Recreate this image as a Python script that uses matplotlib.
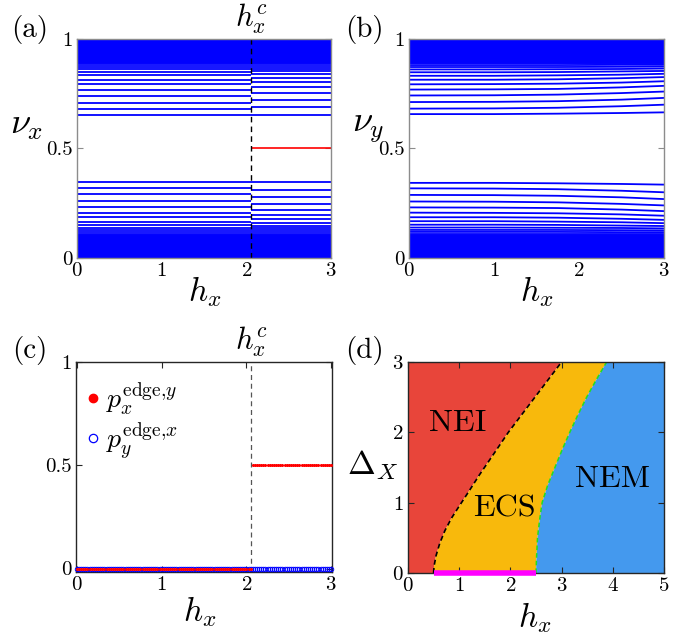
import numpy as np
import matplotlib
matplotlib.use("Agg")
import matplotlib.pyplot as plt
from matplotlib.lines import Line2D

plt.rcParams["font.family"] = "serif"
plt.rcParams["font.serif"] = ["cmr10"]
plt.rcParams["mathtext.fontset"] = "cm"
plt.rcParams["axes.unicode_minus"] = False
plt.rcParams["axes.formatter.use_mathtext"] = True

# ---- data ----
hc = 2.06

# (a) Wannier centres nu_x, lower branch (upper branch is 1 - nu)
nu_dense = [0.000, 0.004, 0.008, 0.012, 0.016, 0.020, 0.024, 0.028, 0.032,
            0.036, 0.040, 0.044, 0.048, 0.052, 0.056, 0.060, 0.064, 0.068,
            0.072, 0.076, 0.080, 0.084, 0.088, 0.092, 0.096, 0.100, 0.104]
nu_a_left = [0.346, 0.321, 0.291, 0.260, 0.231, 0.207, 0.186, 0.166,
             0.151, 0.138, 0.127, 0.118, 0.111]
nu_a_right = [0.346, 0.312, 0.280, 0.248, 0.221, 0.196, 0.177, 0.161,
              0.148, 0.136, 0.126, 0.118, 0.111]
nu_a_edge = 0.5

# (b) nu_y lower branch sampled at these h_x
h_b = [0.0, 1.0, 1.75, 2.5, 3.0]
nu_b = [
    [0.343, 0.343, 0.341, 0.338, 0.335],
    [0.318, 0.317, 0.314, 0.307, 0.300],
    [0.288, 0.287, 0.284, 0.277, 0.269],
    [0.258, 0.257, 0.254, 0.247, 0.240],
    [0.231, 0.230, 0.228, 0.221, 0.214],
    [0.207, 0.206, 0.204, 0.199, 0.193],
    [0.186, 0.186, 0.184, 0.179, 0.174],
    [0.168, 0.168, 0.166, 0.163, 0.159],
    [0.152, 0.152, 0.151, 0.148, 0.146],
    [0.139, 0.139, 0.138, 0.137, 0.135],
    [0.128, 0.128, 0.128, 0.127, 0.126],
    [0.119, 0.119, 0.119, 0.118, 0.118],
    [0.111, 0.111, 0.111, 0.111, 0.111],
]

# (c) edge polarizations
h_c = np.arange(0, 3.0001, 0.025)
px_below, px_above = 0.0, 0.5
py_value = 0.0

# (d) phase boundaries (h_x, Delta_X)
b1_h = [0.50, 0.51, 0.55, 0.62, 0.72, 0.85, 1.00, 1.18, 1.40, 1.70, 1.96, 2.48, 3.00]
b1_d = [0.00, 0.10, 0.25, 0.42, 0.60, 0.78, 0.95, 1.15, 1.40, 1.72, 2.00, 2.50, 3.00]
b2_h = [2.50, 2.51, 2.53, 2.57, 2.62, 2.73, 2.87, 3.01, 3.16, 3.32, 3.49, 3.68, 3.88]
b2_d = [0.00, 0.20, 0.50, 0.75, 1.00, 1.25, 1.50, 1.75, 2.00, 2.25, 2.50, 2.75, 3.00]
phase_names = ["NEI", "ECS", "NEM"]
phase_pos = [(0.98, 2.13), (1.89, 0.92), (4.0, 1.33)]

blue = "#0000ff"
gray = "#8c8c8c"
dark = "#262626"
lw_band = 1.3

fig = plt.figure(figsize=(6.91, 6.37), dpi=100)
ax_a = fig.add_axes([0.1114, 0.595, 0.3676, 0.3438])
ax_b = fig.add_axes([0.5919, 0.595, 0.369, 0.3438])
ax_c = fig.add_axes([0.110, 0.102, 0.3705, 0.3297])
ax_d = fig.add_axes([0.5904, 0.1005, 0.3705, 0.3312])


def style(ax, color):
    ax.tick_params(direction="in", top=True, right=True, length=4,
                   width=0.8, color=color, labelsize=15, pad=3)
    for s in ax.spines.values():
        s.set_color(color)
        s.set_linewidth(1.0)


# (a)
for x0, x1, sparse in [(0, hc, nu_a_left), (hc, 3, nu_a_right)]:
    for v in nu_dense:
        ax_a.hlines([v, 1 - v], x0, x1, color=blue, lw=2.0)
    for v in sparse:
        ax_a.hlines([v, 1 - v], x0, x1, color=blue, lw=lw_band)
ax_a.hlines(nu_a_edge, hc, 3, color="red", lw=1.2)
ax_a.axvline(hc, color="black", ls=(0, (4, 3)), lw=1.0)
ax_a.set_xlim(0, 3)
ax_a.set_ylim(0, 1)
ax_a.set_xticks([0, 1, 2, 3])
ax_a.set_yticks([0, 0.5, 1])
ax_a.set_yticklabels(["0", "0.5", "1"])
style(ax_a, gray)
ax_a.set_xlabel(r"$h_x$", fontsize=24, va="center")
ax_a.xaxis.set_label_coords(0.504, -0.155)
ax_a.set_ylabel(r"$\nu_x$", fontsize=26, rotation=0, va="center", ha="center")
ax_a.yaxis.set_label_coords(-0.197, 0.60)
ax_a.text(hc, 1.015, r"$h_x^c$", transform=ax_a.get_xaxis_transform(),
          ha="center", va="bottom", fontsize=22)

# (b)
for v in nu_dense:
    ax_b.hlines([v, 1 - v], 0, 3, color=blue, lw=2.0)
for row in nu_b:
    ax_b.plot(h_b, row, color=blue, lw=lw_band)
    ax_b.plot(h_b, [1 - v for v in row], color=blue, lw=lw_band)
ax_b.set_xlim(0, 3)
ax_b.set_ylim(0, 1)
ax_b.set_xticks([0, 1, 2, 3])
ax_b.set_yticks([0, 0.5, 1])
ax_b.set_yticklabels(["0", "0.5", "1"])
style(ax_b, gray)
ax_b.set_xlabel(r"$h_x$", fontsize=24, va="center")
ax_b.xaxis.set_label_coords(0.50, -0.155)
ax_b.set_ylabel(r"$\nu_y$", fontsize=26, rotation=0, va="center", ha="center")
ax_b.yaxis.set_label_coords(-0.16, 0.587)

# (c)
px = np.where(h_c > hc, px_above, px_below)
py = np.full_like(h_c, py_value)
ax_c.plot(h_c, py, ls="none", marker="o", ms=3.2, mfc="none", mec=blue,
          mew=0.7, zorder=3, clip_on=False)
ax_c.plot(h_c, px, ls="none", marker="o", ms=2.2, mfc="red", mec="red",
          mew=0, zorder=4, clip_on=False)
ax_c.axvline(hc, color="#555555", ls=(0, (4, 3)), lw=0.9)
ax_c.set_xlim(-0.01, 3.01)
ax_c.set_ylim(-0.017, 1)
ax_c.set_xticks([0, 1, 2, 3])
ax_c.set_yticks([0, 0.5, 1])
ax_c.set_yticklabels(["0", "0.5", "1"])
style(ax_c, dark)
ax_c.set_xlabel(r"$h_x$", fontsize=24, va="center")
ax_c.xaxis.set_label_coords(0.484, -0.19)
ax_c.text(hc, 1.015, r"$h_x^c$", transform=ax_c.get_xaxis_transform(),
          ha="center", va="bottom", fontsize=22)
handles = [
    Line2D([], [], ls="none", marker="o", ms=6, mfc="red", mec="red"),
    Line2D([], [], ls="none", marker="o", ms=6, mfc="none", mec=blue, mew=0.9),
]
ax_c.legend(handles, [r"$p_x^{\mathrm{edge}{,}y}$", r"$p_y^{\mathrm{edge}{,}x}$"],
            loc="upper left", frameon=False, fontsize=20, handlelength=0.6,
            handletextpad=0.15, labelspacing=0.1, borderaxespad=0.2,
            bbox_to_anchor=(-0.03, 0.99))

# (d)
red_c, yel_c, blu_c = "#e8453a", "#f8b90c", "#4499ee"
ax_d.fill([0] + b1_h + [0], [0] + b1_d + [3], color=red_c, lw=0)
ax_d.fill(b1_h + b2_h[::-1], b1_d + b2_d[::-1], color=yel_c, lw=0)
ax_d.fill(b2_h + [5, 5], b2_d + [3, 0], color=blu_c, lw=0)
ax_d.plot(b1_h, b1_d, color="black", ls=(0, (3, 2)), lw=1.2)
ax_d.plot(b2_h, b2_d, color="#22dd22", ls=(0, (3, 2)), lw=1.1)
ax_d.plot([b1_h[0], b2_h[0]], [0, 0], color="#ff00ff", lw=4, clip_on=False,
          solid_capstyle="butt", zorder=5)
for name, (x, y) in zip(phase_names, phase_pos):
    ax_d.text(x, y, name, fontsize=23, ha="center", va="center")
ax_d.set_xlim(0, 5)
ax_d.set_ylim(0, 3)
ax_d.set_xticks([0, 1, 2, 3, 4, 5])
ax_d.set_yticks([0, 1, 2, 3])
style(ax_d, dark)
ax_d.set_xlabel(r"$h_x$", fontsize=24, va="center")
ax_d.xaxis.set_label_coords(0.496, -0.21)
ax_d.set_ylabel(r"$\Delta_X$", fontsize=24, rotation=0, va="center", ha="center")
ax_d.yaxis.set_label_coords(-0.14, 0.51)

for lab, x, y in [("(a)", 0.0434, 0.953), ("(b)", 0.528, 0.953),
                  ("(c)", 0.0434, 0.450), ("(d)", 0.528, 0.450)]:
    fig.text(x, y, lab, fontsize=21, ha="center", va="center")

fig.savefig("out.png", dpi=100)
